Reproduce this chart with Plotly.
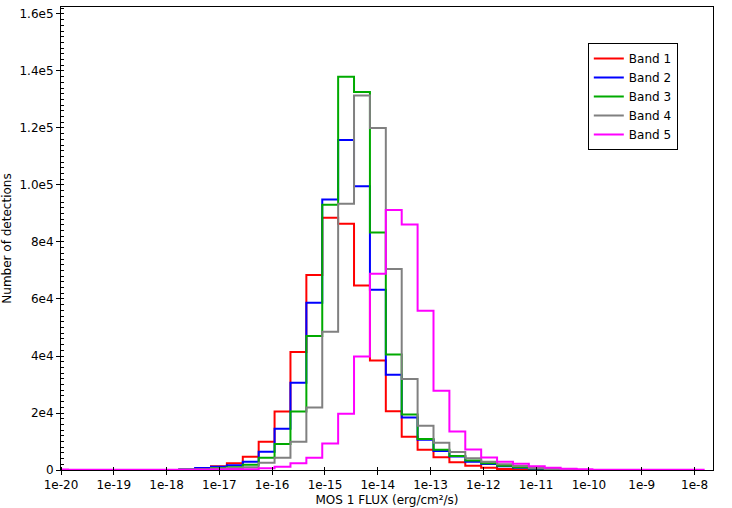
import plotly.graph_objects as go

# Histogram bins: lower edge = 2**k (log bin factor 2)
k_main = list(range(-59, -34))  # -59 .. -35
band1 = [100, 300, 1300, 2350, 4680, 9940, 20500, 41400, 68400, 88500, 86400, 64700, 38400,
         20600, 11700, 7100, 4440, 2700, 1500, 800, 350, 200, 100, 50, 30]
band2 = [200, 700, 1100, 1650, 2930, 6440, 14500, 30600, 58700, 94900, 115800, 99600, 63200,
         33400, 18400, 10600, 6700, 4700, 2900, 2100, 1300, 800, 400, 150, 50]
band3 = [100, 300, 700, 940, 1870, 4330, 9100, 20500, 47000, 93100, 138000, 132600, 83300,
         40500, 19500, 10900, 7130, 4900, 3300, 2400, 1500, 950, 500, 200, 100]
band4 = [50, 200, 500, 700, 1000, 2500, 4330, 9940, 21900, 48500, 93400, 131400, 120000,
         70500, 31900, 15500, 9600, 6300, 4100, 2900, 2000, 1400, 700, 300, 100]
k_band5 = list(range(-67, -26))  # -67 .. -27
band5 = [150, 100, 100, 100, 100, 100, 100, 100, 100, 150, 200, 250, 300, 600, 1170, 2340,
         4330, 9300, 19770, 39800, 68900, 91200, 86100, 55900, 27800, 13500, 7200, 4400,
         2900, 2200, 1300, 800, 470, 250, 100, 100, 100, 100, 100, 100, 100]

names = ["Band 1", "Band 2", "Band 3", "Band 4", "Band 5"]
colors = ["#ff0000", "#0000ff", "#00aa00", "#808080", "#ff00ff"]
series = [(k_main, band1), (k_main, band2), (k_main, band3), (k_main, band4), (k_band5, band5)]

x_tick_vals = [10.0 ** n for n in range(-20, -7)]
x_tick_text = ["1e-%d" % (-n) for n in range(-20, -7)]
y_tick_vals = [0, 20000, 40000, 60000, 80000, 100000, 120000, 140000, 160000]
y_tick_text = ["0", "2e4", "4e4", "6e4", "8e4", "1.0e5", "1.2e5", "1.4e5", "1.6e5"]


def steps(ks, vals):
    edges = [2.0 ** k for k in ks] + [2.0 ** (ks[-1] + 1)]
    xs = [edges[0]] + edges
    ys = [0] + list(vals) + [0]
    return xs, ys


fig = go.Figure()
for (ks, vals), name, col in zip(series, names, colors):
    xs, ys = steps(ks, vals)
    fig.add_trace(go.Scatter(x=xs, y=ys, mode="lines", name=name,
                             line=dict(color=col, width=2, shape="hv")))

font = dict(family="DejaVu Sans", size=12, color="black")
fig.update_layout(
    width=732, height=508,
    margin=dict(l=61, r=19, t=7, b=38),
    paper_bgcolor="white", plot_bgcolor="white",
    font=font,
    showlegend=True,
    legend=dict(x=0.808, y=0.922, xanchor="left", yanchor="top",
                bordercolor="black", borderwidth=1, bgcolor="white",
                font=dict(family="DejaVu Sans", size=12, color="black"),
                itemwidth=30, tracegroupgap=0),
)
fig.update_xaxes(
    type="log", range=[-20.0, -7.65], automargin=False,
    tickvals=x_tick_vals, ticktext=x_tick_text,
    ticks="outside", ticklen=4, tickcolor="black",
    showline=True, linecolor="black", linewidth=1, mirror=True,
    showgrid=False, zeroline=False,
    minor=dict(ticks="inside", ticklen=3, tickcolor="black", showgrid=False),
    title=dict(text="MOS 1 FLUX (erg/cm²/s)", font=font, standoff=4),
    tickfont=font,
)
fig.update_yaxes(
    range=[0, 162450], automargin=False,
    tickvals=y_tick_vals, ticktext=y_tick_text,
    ticks="outside", ticklen=4, tickcolor="black",
    showline=True, linecolor="black", linewidth=1, mirror=True,
    showgrid=False, zeroline=False,
    minor=dict(ticks="inside", ticklen=3, tickcolor="black", dtick=2000, showgrid=False),
    title=dict(text="Number of detections", font=font, standoff=6),
    tickfont=font,
)

fig.write_html("out.html", config={"displayModeBar": False},
               post_script="document.body.style.margin='0';document.body.style.padding='0';")
